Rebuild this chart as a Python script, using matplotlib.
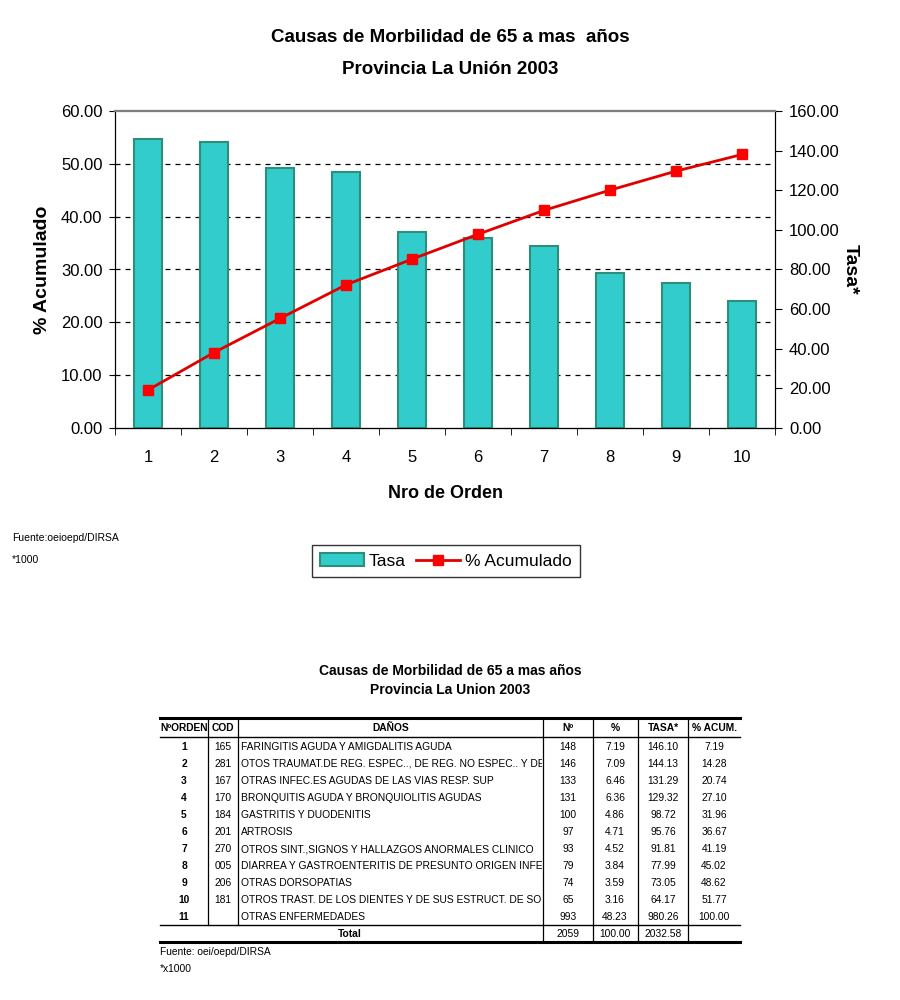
import numpy as np
import matplotlib
matplotlib.use('Agg')
import matplotlib.pyplot as plt
from matplotlib.patches import Patch
from matplotlib.lines import Line2D
from matplotlib.transforms import Bbox, TransformedBbox

plt.rcParams['font.family'] = ['Liberation Sans', 'DejaVu Sans']

# datos del grafico
orden = [1, 2, 3, 4, 5, 6, 7, 8, 9, 10]
tasa = [146.10, 144.13, 131.29, 129.32, 98.72, 95.76, 91.81, 77.99, 73.05, 64.17]
acum = [7.19, 14.28, 20.74, 27.10, 31.96, 36.67, 41.19, 45.02, 48.62, 51.77]

# datos de la tabla (textos de DAÑOS tal como se ven, cortados por la columna)
t_orden = ['1', '2', '3', '4', '5', '6', '7', '8', '9', '10', '11']
t_cod = ['165', '281', '167', '170', '184', '201', '270', '005', '206', '181', '']
t_danos = ['FARINGITIS AGUDA Y AMIGDALITIS AGUDA',
           'OTOS TRAUMAT.DE REG. ESPEC.., DE REG. NO ESPEC.. Y DE',
           'OTRAS INFEC.ES AGUDAS DE LAS VIAS RESP. SUP',
           'BRONQUITIS AGUDA Y BRONQUIOLITIS AGUDAS',
           'GASTRITIS Y DUODENITIS',
           'ARTROSIS',
           'OTROS SINT.,SIGNOS Y HALLAZGOS ANORMALES CLINICO',
           'DIARREA Y GASTROENTERITIS DE PRESUNTO ORIGEN INFEC',
           'OTRAS DORSOPATIAS',
           'OTROS TRAST. DE LOS DIENTES Y DE SUS ESTRUCT. DE SO',
           'OTRAS ENFERMEDADES']
t_n = ['148', '146', '133', '131', '100', '97', '93', '79', '74', '65', '993']
t_pct = ['7.19', '7.09', '6.46', '6.36', '4.86', '4.71', '4.52', '3.84', '3.59', '3.16', '48.23']
t_tasa = ['146.10', '144.13', '131.29', '129.32', '98.72', '95.76', '91.81', '77.99', '73.05', '64.17', '980.26']
t_acum = ['7.19', '14.28', '20.74', '27.10', '31.96', '36.67', '41.19', '45.02', '48.62', '51.77', '100.00']
t_total = ['2059', '100.00', '2032.58']
t_header = ['NºORDEN', 'COD', 'DAÑOS', 'Nº', '%', 'TASA*', '% ACUM.']

fig = plt.figure(figsize=(9, 10), dpi=100)

# ---- grafico ----
ax = fig.add_axes([115/900, 1-428/1000, 660/900, 317/1000])
ax_r = ax.twinx()
ax_ln = ax.twinx()

ax.set_zorder(1)
ax_r.set_zorder(2)
ax_ln.set_zorder(3)
ax_r.patch.set_visible(False)
ax_ln.patch.set_visible(False)

ax_r.bar(orden, tasa, width=0.41, color='#33CCCC', edgecolor='#2E8F78', linewidth=1.5)
ax_ln.plot(orden, acum, color='#E00000', linewidth=2, marker='s', markersize=7,
           markerfacecolor='#FF0000', markeredgecolor='#FF0000')

ax.set_xlim(0.5, 10.5)
ax.set_ylim(0, 60)
ax_r.set_ylim(0, 160)
ax_ln.set_ylim(0, 60)

ax.set_yticks(np.arange(0, 61, 10))
ax.set_yticklabels(['%.2f' % v for v in np.arange(0, 61, 10)], fontsize=12)
ax_r.set_yticks(np.arange(0, 161, 20))
ax_r.set_yticklabels(['%.2f' % v for v in np.arange(0, 161, 20)], fontsize=12)
ax_ln.set_yticks([])

ax.set_xticks(orden)
ax.set_xticklabels([str(o) for o in orden], fontsize=12)
ax.set_xticks(np.arange(0.5, 11, 1), minor=True)
ax.tick_params(axis='x', which='major', length=0, pad=16)
ax.tick_params(axis='x', which='minor', length=5, direction='out')
ax.tick_params(axis='y', length=4, pad=5)
ax_r.tick_params(axis='y', length=5, pad=5)

for v in range(10, 60, 10):
    ax.axhline(v, color='black', linestyle=(0, (4, 4)), linewidth=0.9)

for a in (ax, ax_r, ax_ln):
    a.spines['top'].set_color('#808080')
    a.spines['top'].set_linewidth(1.5)
ax_ln.spines['right'].set_visible(False)
ax_ln.spines['left'].set_visible(False)

ax.set_ylabel('% Acumulado', fontsize=14, fontweight='bold', labelpad=7)
ax_r.set_ylabel('Tasa*', fontsize=14, fontweight='bold', rotation=270, labelpad=14)
ax.set_xlabel('Nro de Orden', fontsize=13, fontweight='bold', labelpad=14)

fig.text(0.5, 0.962, 'Causas de Morbilidad de 65 a mas  años', ha='center', va='center',
         fontsize=13.5, fontweight='bold')
fig.text(0.5, 0.930, 'Provincia La Unión 2003', ha='center', va='center',
         fontsize=13.5, fontweight='bold')

fig.text(12/900, 1-538/1000, 'Fuente:oeioepd/DIRSA', fontsize=7.5, va='center')
fig.text(12/900, 1-560/1000, '*1000', fontsize=7.5, va='center')

h_bar = Patch(facecolor='#33CCCC', edgecolor='#2E8F78', linewidth=1.5)
h_line = Line2D([], [], color='#E00000', linewidth=2, marker='s', markersize=7,
                markerfacecolor='#FF0000', markeredgecolor='#FF0000')
leg = fig.legend([h_bar, h_line], ['Tasa', '% Acumulado'], loc='center',
                 bbox_to_anchor=(446/900, 1-561/1000), ncol=2, fontsize=12.5,
                 frameon=True, fancybox=False, handlelength=2.5, handletextpad=0.3,
                 columnspacing=0.6, borderpad=0.5)
leg.get_frame().set_edgecolor('black')
leg.get_frame().set_linewidth(1)

# ---- tabla ----
tb = fig.add_axes([0, 0, 1, 1])
tb.set_xlim(0, 900)
tb.set_ylim(1000, 0)
tb.axis('off')

tb.text(450, 671, 'Causas de Morbilidad de 65 a mas años', ha='center', va='center',
        fontsize=10, fontweight='bold')
tb.text(450, 690, 'Provincia La Union 2003', ha='center', va='center',
        fontsize=10, fontweight='bold')

x0, x1 = 160, 740
cols = [160, 208, 238, 543, 593, 638, 688, 740]
y_top, y_hdr, y_tot, y_bot = 718, 737, 925, 942
fs = 7.4

tb.plot([x0, x1], [y_top, y_top], color='black', linewidth=2.2)
tb.plot([x0, x1], [y_hdr, y_hdr], color='black', linewidth=1)
tb.plot([x0, x1], [y_tot, y_tot], color='black', linewidth=1)
tb.plot([x0, x1], [y_bot, y_bot], color='black', linewidth=2.2)
for c in cols[1:-1]:
    tb.plot([c, c], [y_top, y_tot], color='black', linewidth=0.9)
for c in cols[3:-1]:
    tb.plot([c, c], [y_tot, y_bot], color='black', linewidth=0.9)

for i, h in enumerate(t_header):
    tb.text((cols[i] + cols[i+1]) / 2, 728, h, ha='center', va='center',
            fontsize=fs, fontweight='bold')

clip = TransformedBbox(Bbox.from_extents(238/900, 0, 542/900, 1), fig.transFigure)
for r in range(len(t_orden)):
    y = 747 + r * 17
    tb.text(184, y, t_orden[r], ha='center', va='center', fontsize=fs, fontweight='bold')
    tb.text(223, y, t_cod[r], ha='center', va='center', fontsize=fs)
    t = tb.text(241, y, t_danos[r], ha='left', va='center', fontsize=fs)
    t.set_clip_box(clip)
    t.set_clip_on(True)
    tb.text(568, y, t_n[r], ha='center', va='center', fontsize=fs)
    tb.text(615, y, t_pct[r], ha='center', va='center', fontsize=fs)
    tb.text(663, y, t_tasa[r], ha='center', va='center', fontsize=fs)
    tb.text(714, y, t_acum[r], ha='center', va='center', fontsize=fs)

tb.text(350, 934, 'Total', ha='center', va='center', fontsize=fs, fontweight='bold')
tb.text(568, 934, t_total[0], ha='center', va='center', fontsize=fs)
tb.text(615, 934, t_total[1], ha='center', va='center', fontsize=fs)
tb.text(663, 934, t_total[2], ha='center', va='center', fontsize=fs)

tb.text(160, 952, 'Fuente: oei/oepd/DIRSA', ha='left', va='center', fontsize=fs)
tb.text(160, 969, '*x1000', ha='left', va='center', fontsize=fs)

fig.savefig('out.png', dpi=100)
